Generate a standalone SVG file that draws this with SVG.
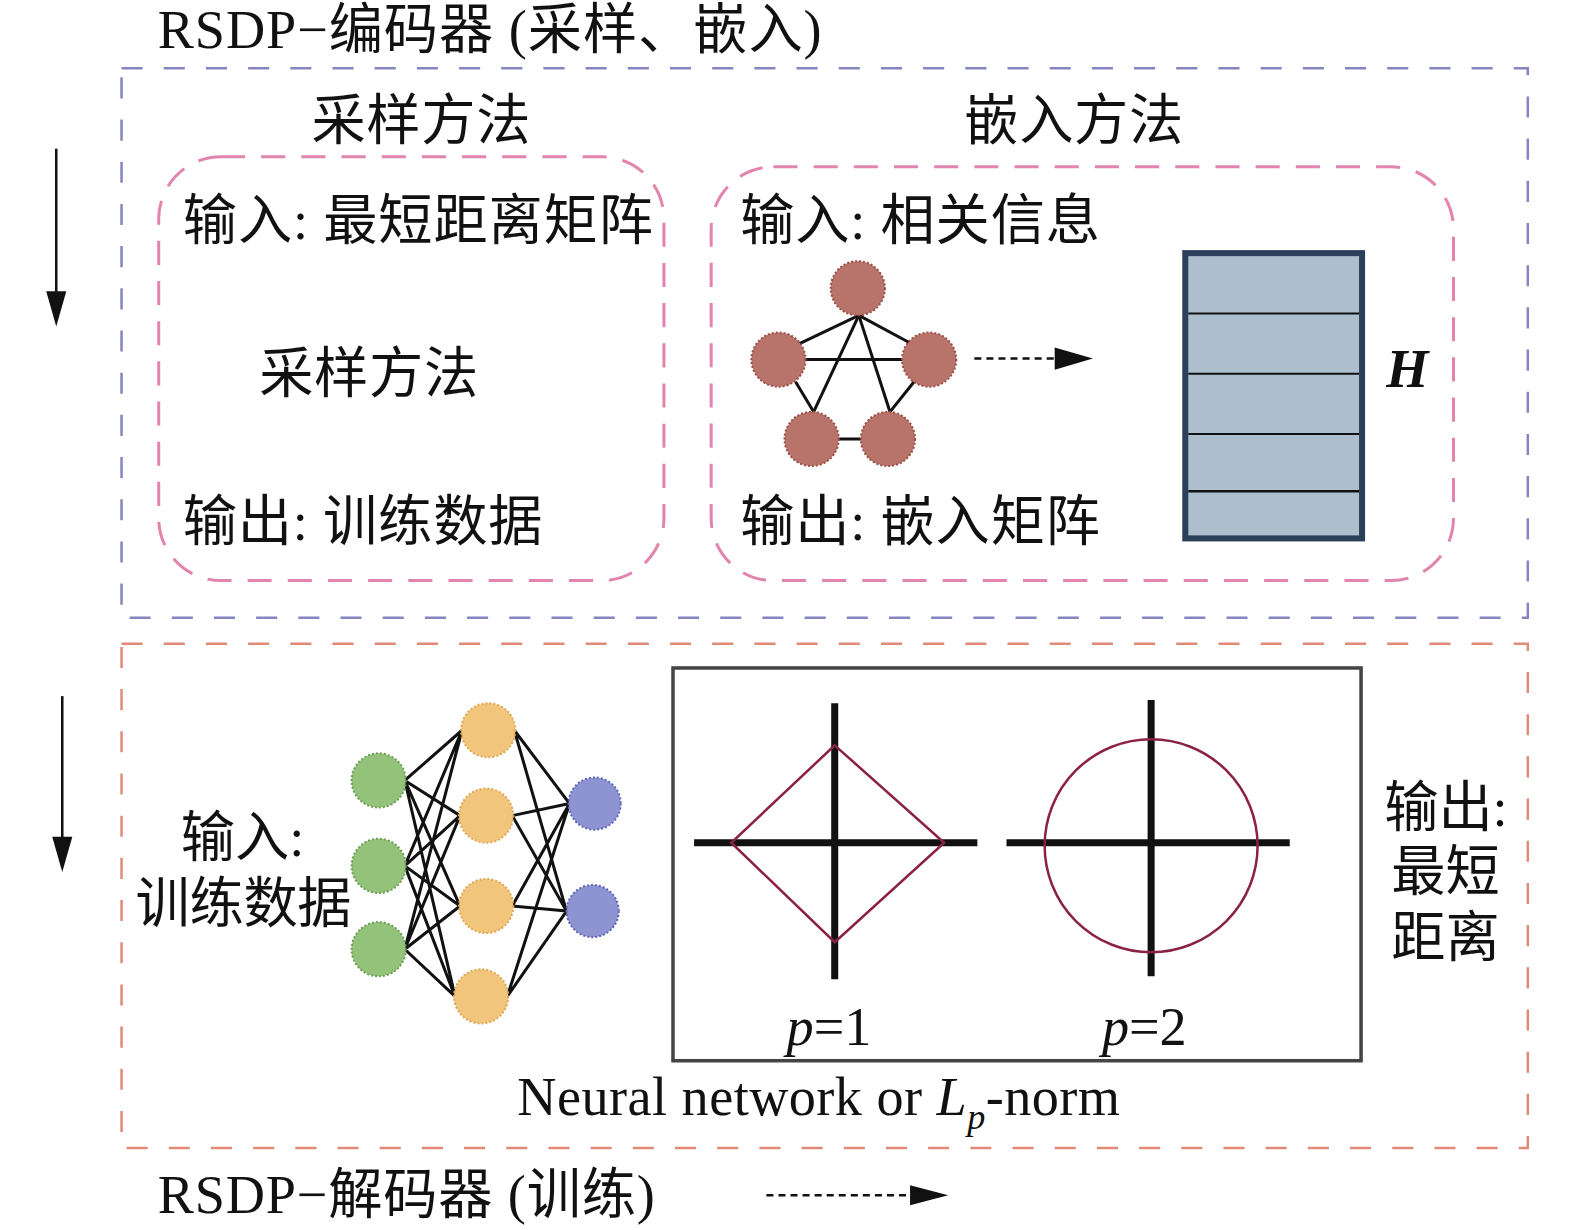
<svg xmlns="http://www.w3.org/2000/svg" width="1575" height="1230" viewBox="0 0 1575 1230">
<defs>
<style>
.t{font-family:"Liberation Serif","Noto Sans CJK SC",serif;font-size:54px;fill:#111}
.blue{fill:none;stroke:#8585c2;stroke-width:2.5;stroke-dasharray:21 21}
.org{fill:none;stroke:#e08a78;stroke-width:2.5;stroke-dasharray:21 21}
.pink{fill:none;stroke:#e284ad;stroke-width:3;stroke-dasharray:24 16}
.e{stroke:#111;stroke-width:3;fill:none}
.gn{fill:#b8746a;stroke:#9a5048;stroke-width:2;stroke-dasharray:2 2}
.g{fill:#93c27a;stroke:#6f9f55;stroke-width:2;stroke-dasharray:2 2}
.y{fill:#f2c57c;stroke:#e0a858;stroke-width:2;stroke-dasharray:2 2}
.b{fill:#8e94d2;stroke:#6068b8;stroke-width:2;stroke-dasharray:2 2}
.ax{stroke:#111;stroke-width:7}
.nrm{fill:none;stroke:#8b2244;stroke-width:2.5}
</style>
</defs>
<rect width="1575" height="1230" fill="#fff"/>
<g transform="scale(1.00447)">
<g id="encoder">
<rect class="blue" x="121" y="68" width="1400" height="547"/>
<text class="t" x="157" y="48" textLength="661">RSDP−编码器 (采样、嵌入)</text>
<text class="t" x="310" y="138" textLength="218">采样方法</text>
<text class="t" x="960" y="138" textLength="218">嵌入方法</text>
</g>

<g id="sampling">
<rect class="pink" x="158" y="156" width="503" height="422" rx="62"/>
<text class="t" x="182" y="238" textLength="468">输入: 最短距离矩阵</text>
<text class="t" x="258" y="390" textLength="218">采样方法</text>
<text class="t" x="182" y="538" textLength="358">输出: 训练数据</text>
</g>

<g id="embedding">
<rect class="pink" x="708" y="166" width="739" height="412" rx="62"/>
<text class="t" x="737" y="238" textLength="358">输入: 相关信息</text>
<text class="t" x="737" y="538" textLength="358">输出: 嵌入矩阵</text>
<g id="graph">
<line class="e" x1="855" y1="314" x2="796" y2="342"/>
<line class="e" x1="855" y1="314" x2="907" y2="342"/>
<line class="e" x1="855" y1="314" x2="810" y2="410"/>
<line class="e" x1="855" y1="314" x2="886" y2="410"/>
<line class="e" x1="776" y1="358" x2="927" y2="358"/>
<line class="e" x1="792" y1="380" x2="810" y2="410"/>
<line class="e" x1="910" y1="380" x2="886" y2="410"/>
<line class="e" x1="810" y1="437" x2="886" y2="437"/>
<circle class="gn" cx="854" cy="287" r="27"/>
<circle class="gn" cx="775" cy="358" r="27"/>
<circle class="gn" cx="925" cy="358" r="27"/>
<circle class="gn" cx="808" cy="437" r="27"/>
<circle class="gn" cx="884" cy="437" r="27"/>
</g>
</g>

<g id="matrixH">
<rect x="1180" y="252" width="176" height="284" fill="#adbfcc" stroke="#2c3f5a" stroke-width="6"/>
<line x1="1183" y1="312" x2="1353" y2="312" stroke="#111" stroke-width="2"/>
<line x1="1183" y1="372" x2="1353" y2="372" stroke="#111" stroke-width="2"/>
<line x1="1183" y1="432" x2="1353" y2="432" stroke="#111" stroke-width="2"/>
<line x1="1183" y1="489" x2="1353" y2="489" stroke="#111" stroke-width="2.5"/>
<text x="1380" y="385" style="font-family:'Liberation Serif',serif;font-size:54px;font-weight:bold;font-style:italic;fill:#111">H</text>
</g>

<g id="decoder">
<rect class="org" x="121" y="641" width="1400" height="502"/>
<text class="t" x="157" y="1208" textLength="495">RSDP−解码器 (训练)</text>
<text class="t" x="180" y="852">输入:</text>
<text class="t" x="135" y="918" textLength="215">训练数据</text>
<text class="t" x="1378" y="822">输出:</text>
<text class="t" x="1385" y="886">最短</text>
<text class="t" x="1385" y="952">距离</text>
<text class="t" x="515" y="1110" textLength="600">Neural network or <tspan font-style="italic">L</tspan><tspan font-style="italic" font-size="36" dy="14">p</tspan><tspan dy="-14">-norm</tspan></text>
</g>

<g id="nn">
<g class="e">
<path d="M403,777 L460,727 M403,777 L458,812 M403,777 L458,902 M403,777 L453,992
M403,862 L460,727 M403,862 L458,812 M403,862 L458,902 M403,862 L453,992
M403,945 L460,727 M403,945 L458,812 M403,945 L458,902 M403,945 L453,992
M512,727 L567,800 M512,727 L564,907
M510,812 L567,800 M510,812 L564,907
M510,902 L567,800 M510,902 L564,907
M505,992 L567,800 M505,992 L564,907"/>
</g>
<circle class="g" cx="377" cy="777" r="27"/>
<circle class="g" cx="377" cy="862" r="27"/>
<circle class="g" cx="377" cy="945" r="27"/>
<circle class="y" cx="486" cy="727" r="27"/>
<circle class="y" cx="484" cy="812" r="27"/>
<circle class="y" cx="484" cy="902" r="27"/>
<circle class="y" cx="479" cy="992" r="27"/>
<circle class="b" cx="592" cy="800" r="26"/>
<circle class="b" cx="590" cy="907" r="26"/>
</g>

<g id="lpnorm">
<rect x="670" y="665" width="685" height="391" fill="none" stroke="#444" stroke-width="3.5"/>
<line class="ax" x1="831" y1="700" x2="831" y2="975"/>
<line class="ax" x1="691" y1="839" x2="973" y2="839"/>
<polygon class="nrm" points="831,742 940,839 831,938 728,839"/>
<line class="ax" x1="1146" y1="697" x2="1146" y2="972"/>
<line class="ax" x1="1002" y1="839" x2="1284" y2="839"/>
<ellipse class="nrm" cx="1146" cy="842" rx="106" ry="106"/>
<text class="t" x="783" y="1040"><tspan font-style="italic">p</tspan>=1</text>
<text class="t" x="1097" y="1040"><tspan font-style="italic">p</tspan>=2</text>
</g>

<g id="connectors">
<line x1="56" y1="148" x2="56" y2="292" stroke="#111" stroke-width="2.5"/>
<polygon points="46,290 66,290 56,325" fill="#111"/>
<line x1="62" y1="693" x2="62" y2="835" stroke="#111" stroke-width="2.5"/>
<polygon points="52,833 72,833 62,868" fill="#111"/>
<line x1="970" y1="357" x2="1052" y2="357" stroke="#111" stroke-width="2.5" stroke-dasharray="7 5"/>
<polygon points="1050,346 1088,357 1050,368" fill="#111"/>
<line x1="763" y1="1190" x2="908" y2="1190" stroke="#111" stroke-width="2.5" stroke-dasharray="7 5"/>
<polygon points="906,1180 944,1190 906,1200" fill="#111"/>
</g>
</g>
</svg>
